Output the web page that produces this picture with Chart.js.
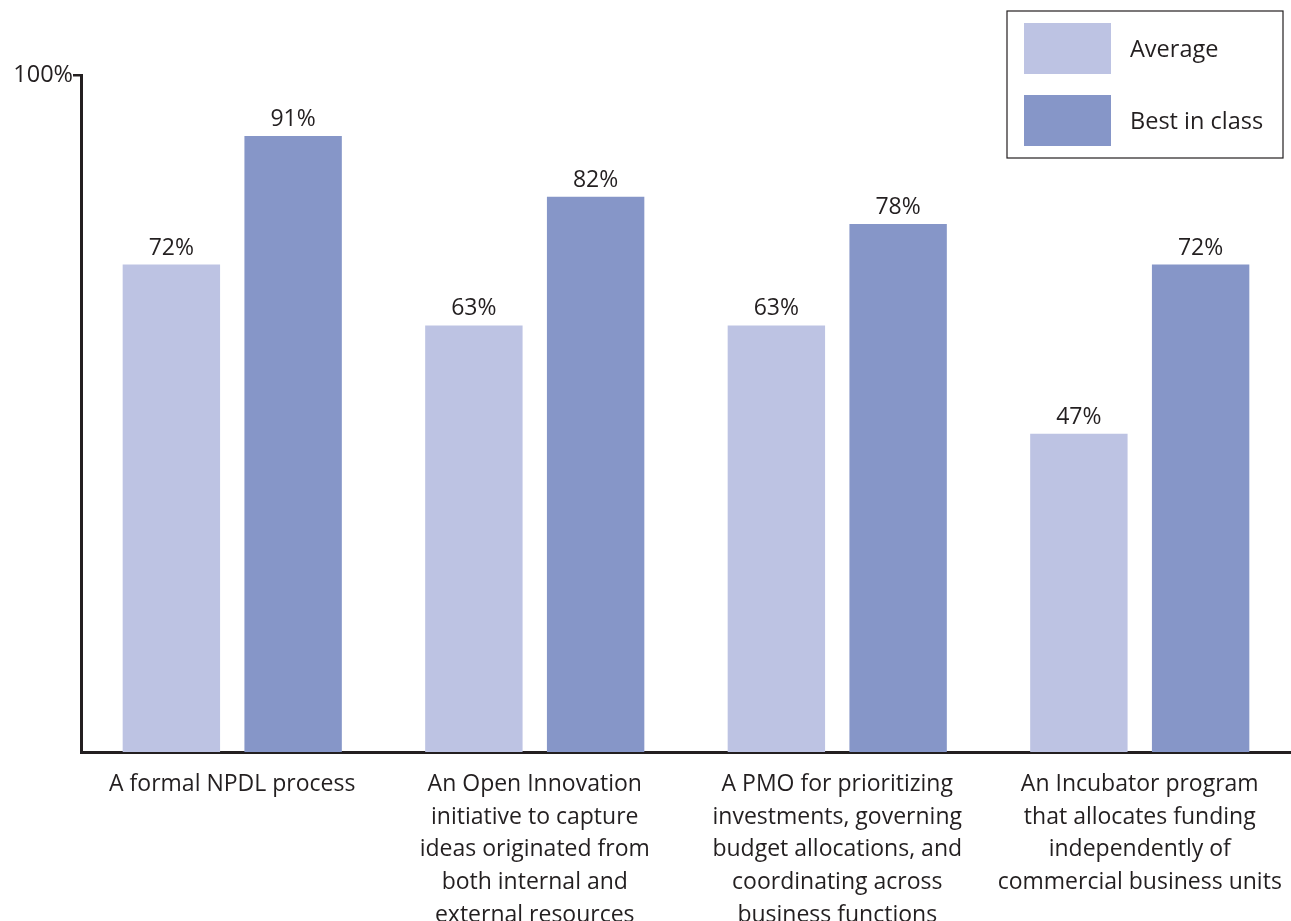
<!DOCTYPE html>
<html>
<head>
<meta charset="utf-8">
<script src="https://cdn.jsdelivr.net/npm/chart.js@4/dist/chart.umd.min.js"></script>
<style>
  html, body { margin: 0; padding: 0; background: #fff; }
  #wrap { width: 1291px; height: 921px; }
</style>
</head>
<body>
<div id="wrap"><canvas id="c" width="1291" height="921"></canvas></div>
<script>
const categories = [
  ['A formal NPDL process'],
  ['An Open Innovation', 'initiative to capture', 'ideas originated from', 'both internal and', 'external resources'],
  ['A PMO for prioritizing', 'investments, governing', 'budget allocations, and', 'coordinating across', 'business functions'],
  ['An Incubator program', 'that allocates funding', 'independently of', 'commercial business units']
];
const average = [72, 63, 63, 47];
const bestInClass = [91, 82, 78, 72];
const yTicks = [100];

const FONT = '"Open Sans", "Noto Sans", sans-serif';
const INK = '#231f20';

// value labels above each bar
const valueLabels = {
  id: 'valueLabels',
  afterDatasetsDraw(chart) {
    const ctx = chart.ctx;
    ctx.save();
    ctx.font = '23px ' + FONT;
    ctx.fillStyle = INK;
    ctx.textAlign = 'center';
    ctx.textBaseline = 'alphabetic';
    chart.data.datasets.forEach((ds, i) => {
      chart.getDatasetMeta(i).data.forEach((bar, j) => {
        ctx.fillText(ds.data[j] + '%', bar.x, bar.y - 10);
      });
    });
    ctx.restore();
  }
};

// boxed legend in the top right corner
const boxLegend = {
  id: 'boxLegend',
  afterDraw(chart) {
    const ctx = chart.ctx;
    const x = 1007, y = 11, w = 276, h = 147;
    ctx.save();
    ctx.fillStyle = '#fff';
    ctx.fillRect(x, y, w, h);
    ctx.strokeStyle = INK;
    ctx.lineWidth = 1.2;
    ctx.strokeRect(x, y, w, h);
    ctx.font = '23.5px ' + FONT;
    ctx.textBaseline = 'middle';
    chart.data.datasets.forEach((ds, i) => {
      const top = 23 + i * 72;
      ctx.fillStyle = ds.backgroundColor;
      ctx.fillRect(1024, top, 87, 51);
      ctx.fillStyle = INK;
      ctx.fillText(ds.label, 1130, top + 27);
    });
    ctx.restore();
  }
};

new Chart(document.getElementById('c'), {
  type: 'bar',
  data: {
    labels: categories,
    datasets: [
      { label: 'Average', data: average, backgroundColor: '#bdc3e3' },
      { label: 'Best in class', data: bestInClass, backgroundColor: '#8696c8' }
    ]
  },
  options: {
    responsive: false,
    animation: false,
    layout: { padding: { top: 75, right: 0, left: 0, bottom: 0 } },
    plugins: { legend: { display: false }, tooltip: { enabled: false } },
    datasets: { bar: { categoryPercentage: 0.805, barPercentage: 0.8 } },
    scales: {
      x: {
        grid: { display: false },
        border: { color: INK, width: 3 },
        ticks: {
          color: INK,
          font: { family: FONT, size: 23, lineHeight: 1.42 },
          padding: 8,
          maxRotation: 0,
          autoSkip: false
        },
        afterFit(scale) { scale.height = 169; }
      },
      y: {
        min: 0,
        max: 100,
        afterBuildTicks(scale) { scale.ticks = yTicks.map(v => ({ value: v })); },
        grid: { drawOnChartArea: false, tickLength: 8, color: INK, lineWidth: 2.5 },
        border: { color: INK, width: 3 },
        ticks: {
          color: INK,
          font: { family: FONT, size: 23.5 },
          padding: 0,
          callback: v => v + '%'
        },
        afterFit(scale) { scale.width = 81; }
      }
    }
  },
  plugins: [valueLabels, boxLegend]
});
</script>
</body>
</html>
